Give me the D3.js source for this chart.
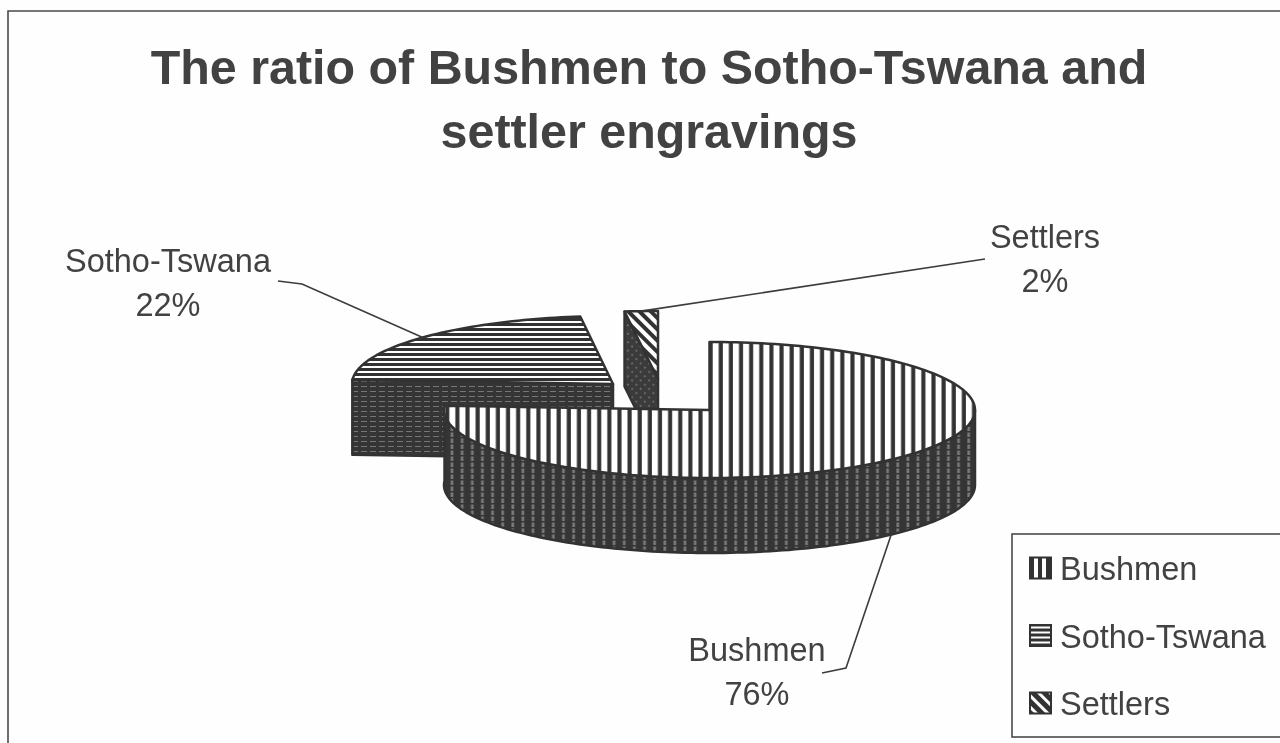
<!DOCTYPE html>
<html>
<head>
<meta charset="utf-8">
<script src="https://cdn.jsdelivr.net/npm/d3@7"></script>
<style>
  html, body { margin: 0; padding: 0; background: #fefefe; overflow: hidden; }
  text { font-family: "Liberation Sans", Arial, sans-serif; fill: #424242; }
</style>
</head>
<body>
<div id="chart"></div>
<script>
var categories = ["Bushmen", "Sotho-Tswana", "Settlers"]
var shares = [76, 22, 2]
var titleLines = ["The ratio of Bushmen to Sotho-Tswana and", "settler engravings"]

var width = 1280
var height = 743
var ry = 68
var depth = 75
var ink = "#333"

// where each exploded slice sits, and where its label goes
var layout = {
    "Bushmen": {cx: 709.5, cy: 410, rx: 265.5, labelX: 757, labelY: 661, elbow: [[822, 673], [846, 668]], top: "url(#vTop)", wall: "url(#vWall)"},
    "Sotho-Tswana": {cx: 613, cy: 384, rx: 261, labelX: 168, labelY: 272, elbow: [[278, 281], [302, 284]], top: "url(#hTop)", wall: "url(#hWall)"},
    "Settlers": {cx: 658, cy: 379, rx: 267, labelX: 1045, labelY: 248, elbow: [[985, 259]], top: "url(#dTop)", wall: "url(#dWall)"}
}

var svg = d3.select("#chart").append("svg")
    .attr("width", width)
    .attr("height", height)
    .style("display", "block")

var defs = svg.append("defs")
defs.append("filter").attr("id", "scan")
    .attr("x", 0).attr("y", 0).attr("width", 1).attr("height", 1)
    .attr("filterUnits", "objectBoundingBox")
    .append("feGaussianBlur").attr("stdDeviation", 0.6)

function stripes(id, w, h, dark, light, lx, ly, lw, lh, rotate) {
    var p = defs.append("pattern")
        .attr("id", id)
        .attr("patternUnits", "userSpaceOnUse")
        .attr("width", w)
        .attr("height", h)
    if (rotate) p.attr("patternTransform", "rotate(" + rotate + ")")
    p.append("rect").attr("width", w).attr("height", h).attr("fill", dark)
    p.append("rect").attr("x", lx).attr("y", ly).attr("width", lw).attr("height", lh).attr("fill", light)
}
stripes("vTop", 10.13, 10, ink, "#fff", 3.6, 0, 6, 10)
stripes("hTop", 5, 5, ink, "#fff", 0, 1, 5, 2)
stripes("dTop", 8, 8, ink, "#fff", 0, 2, 8, 4, 45)
stripes("vWall", 10.13, 6, "#363636", "#7a7a7a", 5, 0.5, 2.6, 4.5)
stripes("hWall", 9, 5, "#363636", "#767676", 1, 1, 6, 1)
stripes("dWall", 6, 6, "#3a3a3a", "#666", 1, 1, 2, 2, 45)
stripes("vKey", 8, 8, ink, "#fff", 2, 0, 4, 8)
stripes("hKey", 5, 5, ink, "#fff", 0, 1.5, 5, 2)
stripes("dKey", 8, 8, ink, "#fff", 0, 2, 8, 3, 45)

var page = svg.append("g").attr("filter", "url(#scan)")

page.append("rect")
    .attr("width", width).attr("height", height)
    .attr("fill", "#fefefe")

// frame runs off the right and bottom of the scan
page.append("path")
    .attr("d", "M8," + (height + 5) + "V11H" + (width + 5))
    .attr("fill", "none")
    .attr("stroke", "#4a4a4a")
    .attr("stroke-width", 1.6)

page.selectAll(".title")
    .data(titleLines)
    .enter().append("text")
    .attr("class", "title")
    .attr("x", 649)
    .attr("y", function(d, i) { return 84 + i * 64 })
    .attr("text-anchor", "middle")
    .attr("font-size", 48.4)
    .attr("font-weight", "bold")
    .text(function(d) { return d })

var pie = d3.pie().sort(null).value(function(d) { return d.share })
var slices = pie(categories.map(function(c, i) { return {name: c, share: shares[i]} }))

var line = d3.line()

function projector(name) {
    var l = layout[name]
    var sx = d3.scaleLinear().domain([-1, 1]).range([l.cx - l.rx, l.cx + l.rx])
    var sy = d3.scaleLinear().domain([-1, 1]).range([l.cy + ry, l.cy - ry])
    return function(a, drop) {
        return [sx(Math.sin(a)), sy(Math.cos(a)) + (drop || 0)]
    }
}

function rim(project, a0, a1, drop) {
    var n = Math.max(2, Math.ceil((a1 - a0) * 40))
    return d3.range(n + 1).map(function(i) {
        return project(a0 + (a1 - a0) * i / n, drop)
    })
}

function drawSlice(s) {
    var name = s.data.name
    var l = layout[name]
    var project = projector(name)
    var apex = [l.cx, l.cy]
    var g = page.append("g")

    // walls first so the top face sits over them
    var walls = []
    var a0 = Math.max(s.startAngle, Math.PI / 2)
    var a1 = Math.min(s.endAngle, Math.PI * 1.5 + 0.07)
    if (a1 > a0) {
        walls.push(rim(project, a0, a1, 0).concat(rim(project, a0, a1, depth).reverse()))
    }
    // the cut side shows when the slice was pulled away to the upper left
    if (name != "Bushmen") {
        var from = project(s.startAngle)
        walls.push([from, apex, [apex[0], apex[1] + depth], [from[0], from[1] + depth]])
    }
    walls.forEach(function(w) {
        g.append("path")
            .attr("d", line(w) + "Z")
            .attr("fill", l.wall)
            .attr("stroke", ink)
            .attr("stroke-width", 2.5)
            .attr("stroke-linejoin", "round")
    })

    var face = [apex].concat(rim(project, s.startAngle, s.endAngle, 0))
    g.append("path")
        .attr("d", line(face) + "Z")
        .attr("fill", l.top)
        .attr("stroke", ink)
        .attr("stroke-width", 2.5)
        .attr("stroke-linejoin", "round")
}

// back to front
drawSlice(slices[2])
drawSlice(slices[1])
drawSlice(slices[0])

// leader lines start at the middle of each slice's outer edge
slices.forEach(function(s) {
    var name = s.data.name
    var l = layout[name]
    var mid = (s.startAngle + s.endAngle) / 2
    var drop = Math.cos(mid) < 0 ? depth : 0
    var pts = [projector(name)(mid, drop)].concat(l.elbow.slice().reverse())
    page.append("path")
        .attr("d", line(pts))
        .attr("fill", "none")
        .attr("stroke", "#3c3c3c")
        .attr("stroke-width", 1.6)
    page.append("text")
        .attr("x", l.labelX).attr("y", l.labelY)
        .attr("text-anchor", "middle")
        .attr("font-size", 32.5)
        .text(name)
    page.append("text")
        .attr("x", l.labelX).attr("y", l.labelY + 44)
        .attr("text-anchor", "middle")
        .attr("font-size", 32.5)
        .text(s.data.share + "%")
})

// legend
page.append("rect")
    .attr("x", 1012).attr("y", 534)
    .attr("width", width).attr("height", 203)
    .attr("fill", "#fefefe")
    .attr("stroke", "#4a4a4a")
    .attr("stroke-width", 1.6)

var keyY = d3.scalePoint().domain(categories).range([568, 703])
var keyFill = {"Bushmen": "url(#vKey)", "Sotho-Tswana": "url(#hKey)", "Settlers": "url(#dKey)"}

categories.forEach(function(c) {
    page.append("rect")
        .attr("x", 1030).attr("y", keyY(c) - 10.5)
        .attr("width", 21).attr("height", 21)
        .attr("fill", keyFill[c])
        .attr("stroke", ink)
        .attr("stroke-width", 2)
    page.append("text")
        .attr("x", 1060).attr("y", keyY(c) + 12)
        .attr("font-size", 32.5)
        .text(c)
})
</script>
</body>
</html>
